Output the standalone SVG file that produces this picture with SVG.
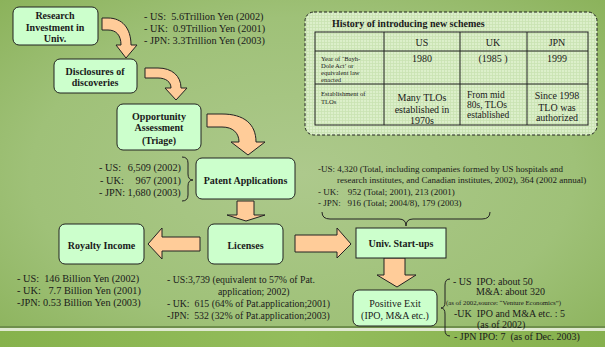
<svg xmlns="http://www.w3.org/2000/svg" width="605" height="347" viewBox="0 0 605 347">
<defs>
<radialGradient id="bg" cx="0.5" cy="0.5" r="0.75">
<stop offset="0" stop-color="#adc98c"/>
<stop offset="0.6" stop-color="#9fc178"/>
<stop offset="1" stop-color="#88b056"/>
</radialGradient>
<linearGradient id="band" x1="0" y1="0" x2="1" y2="0">
<stop offset="0" stop-color="#86b24c"/>
<stop offset="0.5" stop-color="#94bd5c"/>
<stop offset="1" stop-color="#86b04e"/>
</linearGradient>
<pattern id="chk" width="3" height="3" patternUnits="userSpaceOnUse">
<rect width="3" height="3" fill="#dcefca"/>
<path d="M0,0.5H3M0.5,0V3" stroke="#c9e2b2" stroke-width="0.8"/>
</pattern>
<style>
text{font-family:"Liberation Serif","Times New Roman",serif;fill:#1a1a1a;white-space:pre}
.b{font-weight:bold;font-size:10px;text-anchor:middle}
.t{font-size:10.3px}
.s{font-size:9px}
.m{font-size:9.8px}
.e{font-size:10px}
.tb{font-size:10px;text-anchor:middle}
.tiny{font-size:6.6px}
.node{fill:#ccffcc;stroke:#222;stroke-width:1}
.arr{fill:#ffcc99;stroke:#222;stroke-width:1;stroke-linejoin:miter}
.br{fill:none;stroke:#222;stroke-width:1}
.grid{stroke:#222;stroke-width:1;fill:none}
</style>
</defs>
<rect width="605" height="347" fill="url(#bg)"/>
<rect x="0" y="326" width="605" height="2" fill="#6f8f4c"/>
<rect x="0" y="328" width="605" height="3" fill="#dfe9d0"/>
<rect x="0" y="331" width="605" height="16" fill="url(#band)"/>

<g id="connectors">
<path class="arr" d="M102,18 H108 C122,18 131,28 131,45 H137 L126,58 L116,45 H121 C121,35 116,30 108,30 H102 Z"/>
<path class="arr" d="M145,68 H158 C172,68 181,76 181,88 H187 L176,100 L165,88 H171 C171,82 166,78 158,78 H145 Z"/>
<path class="arr" d="M207,114 H222 C244,114 256,124 256,142 H265 L248,155 L231,142 H239 C239,133 233,127 222,127 H207 Z"/>
<path class="arr" d="M237,201 H254 V215 H265 L246,221 L227,215 H237 Z"/>
<path class="arr" d="M200,237 V251 H162 V259 L148,244 L162,228 V237 Z"/>
<path class="arr" d="M295,235 H337 V228 L351,244 L337,258 V252 H295 Z"/>
<path class="arr" d="M384,258 V275 H377 L397,287 L416,275 H405 V258 Z"/>
<path class="br" d="M182,157 Q188,157 188,163 V174 Q188,180 193,180 Q188,180 188,186 V195 Q188,201 182,201"/>
<path class="br" d="M322,212 Q322,219 330,219 H399 Q406,219 406,226 Q406,219 413,219 H482 Q490,219 490,212"/>
<path class="br" d="M450,279 Q445,279 445,285 V302 Q445,308 441,308 Q445,308 445,314 V330 Q445,336 450,336"/>
</g>

<g id="research">
<rect class="node" x="13" y="7" width="85" height="38" rx="6"/>
<text class="b" x="55" y="18.5">Research</text>
<text class="b" x="55" y="30.5">Investment in</text>
<text class="b" x="55" y="42">Univ.</text>
</g>
<g id="research-notes">
<text class="t" x="144" y="19.5">- US:  5.6Trillion Yen (2002)</text>
<text class="t" x="144" y="31.5">- UK:  0.9Trillion Yen (2001)</text>
<text class="t" x="144" y="43.5">- JPN: 3.3Trillion Yen (2003)</text>
</g>
<g id="disclosures">
<rect class="node" x="54" y="59" width="83" height="34" rx="6"/>
<text class="b" x="95" y="74.5">Disclosures of</text>
<text class="b" x="95" y="86">discoveries</text>
</g>
<g id="opportunity">
<rect class="node" x="117" y="104" width="84" height="46" rx="6"/>
<text class="b" x="159" y="119.5">Opportunity</text>
<text class="b" x="159" y="131">Assessment</text>
<text class="b" x="159" y="144">(Triage)</text>
</g>
<g id="patent">
<rect class="node" x="196" y="158" width="99" height="41" rx="6"/>
<text class="b" x="245.5" y="183.5">Patent Applications</text>
</g>
<g id="patent-notes">
<text class="t" x="99" y="170.5">- US:</text>
<text class="t" x="181" y="170.5" text-anchor="end">6,509 (2002)</text>
<text class="t" x="100" y="183.5">- UK:</text>
<text class="t" x="181" y="183.5" text-anchor="end">967 (2001)</text>
<text class="t" x="99" y="195.5">- JPN: 1,680 (2003)</text>
</g>
<g id="licenses">
<rect class="node" x="208" y="224" width="75" height="40" rx="6"/>
<text class="b" x="245.5" y="248.5">Licenses</text>
</g>
<g id="licenses-notes">
<text class="m" x="167" y="282.5">- US:3,739 (equivalent to 57% of Pat.</text>
<text class="m" x="218" y="294.5">application; 2002)</text>
<text class="m" x="167" y="306.5">- UK:  615 (64% of Pat.application;2001)</text>
<text class="m" x="167" y="318.5">-JPN:  532 (32% of Pat.application;2003)</text>
</g>
<g id="royalty">
<rect class="node" x="59" y="224" width="85" height="40" rx="6"/>
<text class="b" x="101.5" y="248.5">Royalty Income</text>
</g>
<g id="royalty-notes">
<text class="t" x="17" y="281.5">- US:  146 Billion Yen (2002)</text>
<text class="t" x="17" y="293.5">- UK:   7.7 Billion Yen (2001)</text>
<text class="t" x="17" y="305.5">-JPN: 0.53 Billion Yen (2003)</text>
</g>
<g id="startups">
<rect class="node" x="356" y="228" width="90" height="30" rx="0"/>
<text class="b" x="401" y="247">Univ. Start-ups</text>
</g>
<g id="startups-notes">
<text class="s" x="318" y="172">-US: 4,320 (Total, including companies formed by US hospitals and</text>
<text class="s" x="337" y="183">research institutes, and Canadian institutes, 2002), 364 (2002 annual)</text>
<text class="s" x="318" y="195">- UK:    952 (Total; 2001), 213 (2001)</text>
<text class="s" x="318" y="206">- JPN:   916 (Total; 2004/8), 179 (2003)</text>
</g>
<g id="exit">
<rect class="node" x="353" y="290" width="84" height="36" rx="6"/>
<text class="tb" x="395" y="306.5">Positive Exit</text>
<text class="tb" x="395" y="319">(IPO, M&amp;A etc.)</text>
</g>
<g id="exit-notes">
<text class="e" x="453" y="285">- US  IPO: about 50</text>
<text class="e" x="476" y="295">M&amp;A: about 320</text>
<text style="font-size:6.8px" x="446" y="304.5">(as of 2002,source: “Venture Economics”)</text>
<text class="e" x="454" y="316.5">-UK  IPO and M&amp;A etc. : 5</text>
<text class="e" x="477" y="327.5">(as of 2002)</text>
<text class="e" x="454" y="339.5">- JPN IPO: 7  (as of Dec. 2003)</text>
</g>
<g id="history-table">
<rect x="305" y="12" width="292" height="123" rx="9" fill="url(#chk)" stroke="#222" stroke-width="1" stroke-dasharray="3,2"/>
<text x="332" y="26.5" style="font-weight:bold;font-size:10px">History of introducing new schemes</text>
<rect class="grid" x="315" y="32" width="273" height="93" stroke-width="1.3"/>
<path class="grid" d="M315,51H588M315,84H588M384,32V125M460,32V125M527,32V125"/>
<text class="tb" x="422" y="45.5">US</text>
<text class="tb" x="493" y="45.5">UK</text>
<text class="tb" x="557" y="45.5">JPN</text>
<text class="tiny" x="321" y="61">Year of ‘Bayh-</text>
<text class="tiny" x="321" y="68">Dole Act’ or</text>
<text class="tiny" x="321" y="75">equivalent law</text>
<text class="tiny" x="321" y="81.5">enacted</text>
<text class="tb" x="422" y="61.5">1980</text>
<text class="tb" x="493" y="61.5">(1985 )</text>
<text class="tb" x="557" y="61.5">1999</text>
<text class="tiny" x="321" y="96">Establishment of</text>
<text class="tiny" x="321" y="104">TLOs</text>
<text class="tb" x="422" y="100.5">Many TLOs</text>
<text class="tb" x="422" y="112.5">established in</text>
<text class="tb" x="422" y="123.5">1970s</text>
<text style="font-size:9.5px" x="467" y="97.5">From mid</text>
<text style="font-size:9.5px" x="467" y="107.5">80s, TLOs</text>
<text style="font-size:9.5px" x="467" y="117.5">established</text>
<text class="tb" x="557" y="98.5">Since 1998</text>
<text class="tb" x="557" y="110.5">TLO was</text>
<text class="tb" x="557" y="120.5">authorized</text>
</g>
</svg>
